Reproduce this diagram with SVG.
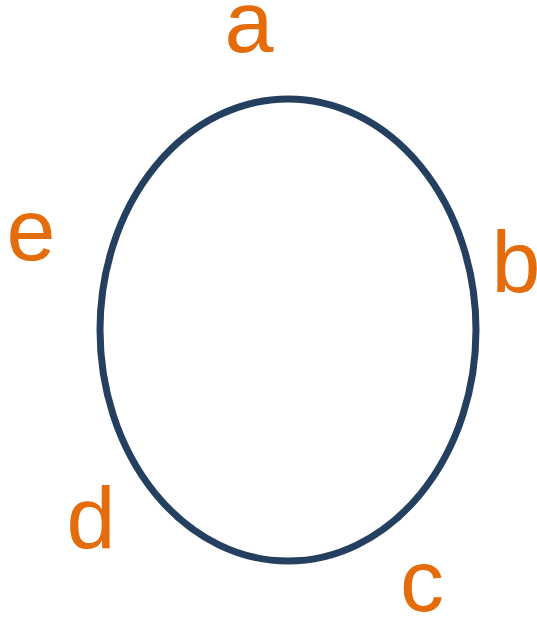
<svg xmlns="http://www.w3.org/2000/svg" width="537" height="617" viewBox="0 0 537 617">
<style>
.lbl{font-family:"Liberation Sans",Arial,sans-serif;font-size:88px;fill:#e46c0a;text-anchor:middle}
</style>
<rect width="537" height="617" fill="#fff"/>
<g id="ring"><ellipse cx="288" cy="330" rx="188" ry="231" fill="none" stroke="#243f5f" stroke-width="7"/></g>
<g id="connectors"></g>
<g id="a"><text class="lbl" x="249" y="52">a</text></g>
<g id="b"><text class="lbl" x="516" y="292">b</text></g>
<g id="c"><text class="lbl" x="422" y="611">c</text></g>
<g id="d"><text class="lbl" x="91" y="548">d</text></g>
<g id="e"><text class="lbl" x="31" y="260">e</text></g>
</svg>
